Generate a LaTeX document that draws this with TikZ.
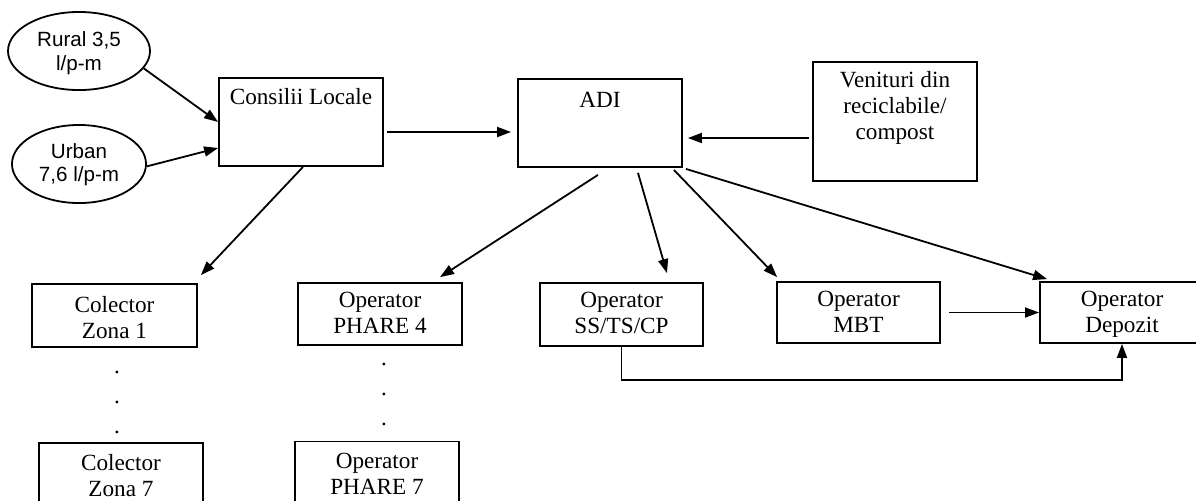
\documentclass[tikz,border=0pt]{standalone}
\usepackage{fontspec}
\setmainfont{Liberation Serif}
\newfontfamily\arialf{Liberation Sans}
\usetikzlibrary{shapes.geometric,arrows.meta}
\newcommand\boxtxt[4]{\parbox[c][#2][t]{#1}{\vspace*{#3}\centering #4\par}}
\begin{document}
\begin{tikzpicture}[x=0.5pt,y=-0.5pt,
 blk/.style={draw,line width=0.9pt,inner sep=0pt,font=\fontsize{11.6pt}{13pt}\selectfont},
 ell/.style={ellipse,draw,line width=0.9pt,inner sep=0pt,font=\arialf\fontsize{10.3pt}{11.75pt}\selectfont},
 arr/.style={line width=0.9pt,-{Triangle[length=7pt,width=5pt]}},
 dotcol/.style={inner sep=0pt,align=center,font=\fontsize{11.5pt}{15pt}\selectfont}]
\useasboundingbox (0,0) rectangle (1196,500);

% ellipses
\node[ell] (rural) at (79,51) {\boxtxt{50.2pt}{27.6pt}{4.25pt}{Rural 3,5\\l/p-m}};
\node[ell] (urban) at (79,164) {\boxtxt{47.4pt}{27.6pt}{3.4pt}{Urban\\7,6 l/p-m}};

% boxes
\node[blk] (cons) at (301,122) {\boxtxt{82pt}{44pt}{5.15pt}{Consilii Locale}};
\node[blk] (adi) at (600,123) {\boxtxt{82pt}{44pt}{6.4pt}{ADI}};
\node[blk] (ven) at (895,121.5) {\boxtxt{82pt}{59.5pt}{4.65pt}{Venituri din\\reciclabile/\\compost}};
\node[blk] (col1) at (114.5,315.5) {\boxtxt{82.5pt}{31.5pt}{6.15pt}{Colector\\Zona 1}};
\node[blk] (col7) at (121,474.5) {\boxtxt{82pt}{31.5pt}{5.65pt}{Colector\\Zona 7}};
\node[blk] (ph4) at (380,314) {\boxtxt{82pt}{31pt}{4.7pt}{Operator\\PHARE 4}};
\node[blk] (ph7) at (377,472.5) {\boxtxt{82pt}{31pt}{5.7pt}{Operator\\PHARE 7}};
\node[blk] (ss) at (621.5,314.5) {\boxtxt{81.5pt}{31.5pt}{4.7pt}{Operator\\SS/TS/CP}};
\node[blk] (mbt) at (858.5,312.5) {\boxtxt{81.5pt}{30.5pt}{4.7pt}{Operator\\MBT}};
\node[blk] (dep) at (1122,312.5) {\boxtxt{82pt}{30.5pt}{4.7pt}{Operator\\Depozit}};

% dots
\node[dotcol] (dotsA) at (117,402) {.\\.\\.};
\node[dotcol] (dotsB) at (384,394) {.\\.\\.};

% connectors
\draw[arr] (rural.-15) -- (cons.west);
\draw[arr] (urban.-2) -- ([yshift=-13pt]cons.west);
\draw[arr] ([xshift=1pt]cons.south) -- ([xshift=1.5pt,yshift=4pt]col1.north east);
\draw[arr] ([xshift=1.5pt,yshift=-5pt]cons.east) -- ([xshift=-3pt,yshift=-4.5pt]adi.west);
\draw[arr] ([xshift=-1.5pt,yshift=-8.25pt]ven.west) -- ([xshift=2.5pt,yshift=-7.5pt]adi.east);
\draw[arr] ([xshift=-1pt,yshift=-3.5pt]adi.south) -- ([xshift=30pt,yshift=2.5pt]ph4.north);
\draw[arr] ([xshift=19pt,yshift=-2.5pt]adi.south) -- ([xshift=22.75pt,yshift=4.5pt]ss.north);
\draw[arr] ([xshift=-4.5pt,yshift=-1pt]adi.south east) -- ([xshift=0.5pt,yshift=2pt]mbt.north west);
\draw[arr] ([xshift=1.5pt,yshift=-0.5pt]adi.south east) -- ([xshift=4pt,yshift=1pt]dep.north west);
\draw[arr] ([xshift=4pt]mbt.east) -- (dep.west);
\draw[arr] (ss.south) -- ++(0,-16.5pt) -| (dep.south);
\end{tikzpicture}
\end{document}
